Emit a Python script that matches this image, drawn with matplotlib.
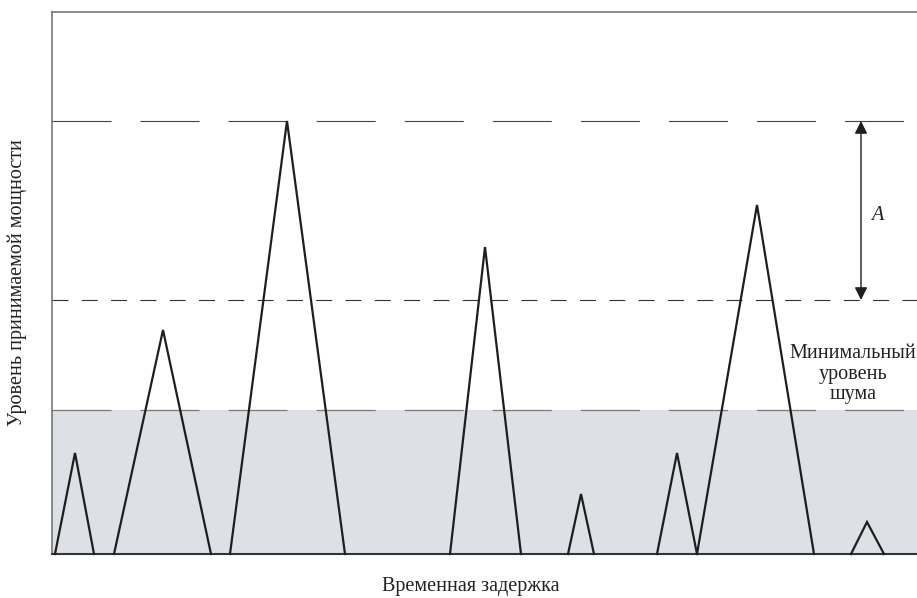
import matplotlib
matplotlib.use("Agg")
import matplotlib.pyplot as plt

plt.rcParams['font.family'] = ['Liberation Serif', 'DejaVu Serif']
plt.rcParams['lines.scale_dashes'] = False

# Pulse data: (start, peak position, end) and peak height
pulse_start = [3, 62, 178, 398, 516, 605, 645, 799]
pulse_peak_x = [23, 111, 235, 433, 529, 625, 705, 815]
pulse_end = [42, 159, 293, 469, 542, 645, 762, 832]
pulse_height = [101, 224, 433, 307, 60, 101, 349, 32]

peak_level = 433
threshold_level = 254
noise_level = 144

x_max = 865
y_max = 542

xlabel = "Временная задержка"
ylabel = "Уровень принимаемой мощности"
noise_text = "Минимальный\nуровень\nшума"
a_text = "A"

W, H = 917, 598
fig = plt.figure(figsize=(W / 100, H / 100), dpi=100)
ax = fig.add_axes([52 / W, (598 - 554) / H, (917 - 52) / W, (554 - 12) / H])
ax.set_xlim(0, x_max)
ax.set_ylim(0, y_max)
ax.set_xticks([])
ax.set_yticks([])
ax.spines['right'].set_visible(False)
ax.spines['left'].set_color('#6b6b6b')
ax.spines['left'].set_linewidth(1.1)
ax.spines['top'].set_color('#6b6b6b')
ax.spines['top'].set_linewidth(1.1)
ax.spines['bottom'].set_color('#333333')
ax.spines['bottom'].set_linewidth(1.5)

# noise floor fill
ax.axhspan(0, noise_level, color='#dde0e4', zorder=0, lw=0)

# dashed level lines
long_dash = (0, (42.5, 20.9))
ax.axhline(peak_level, color='#444444', lw=0.8, linestyle=long_dash, zorder=1)
ax.axhline(noise_level, color='#7a7a7a', lw=0.9, linestyle=long_dash, zorder=1)
ax.axhline(threshold_level, color='#333333', lw=0.8, linestyle=(0, (11.5, 9.6)), zorder=1)

# pulses
for s, px, e, h in zip(pulse_start, pulse_peak_x, pulse_end, pulse_height):
    ax.plot([s, px, e], [0, h, 0], color='#1e1e1e', lw=1.6, solid_joinstyle='miter',
            zorder=3, clip_on=False)

# arrow A
ax.annotate('', xy=(809, peak_level), xytext=(809, threshold_level),
            arrowprops=dict(arrowstyle='<|-|>', color='#1e1e1e', lw=1.0,
                            mutation_scale=19, shrinkA=0, shrinkB=0))
ax.text(825, 339, a_text, fontsize=14.5, style='italic', ha='center', va='center',
        color='#222222')

ax.text(801, 180, noise_text, fontsize=14.5, ha='center', va='center',
        linespacing=1.12, color='#222222')

fig.text(471 / W, 1 - 587 / H, xlabel, fontsize=14.5, ha='center', va='center',
         color='#222222')
fig.text(17 / W, 1 - 283 / H, ylabel, fontsize=14.5, ha='center', va='center',
         rotation=90, color='#222222')

fig.savefig('out.png', dpi=100)
